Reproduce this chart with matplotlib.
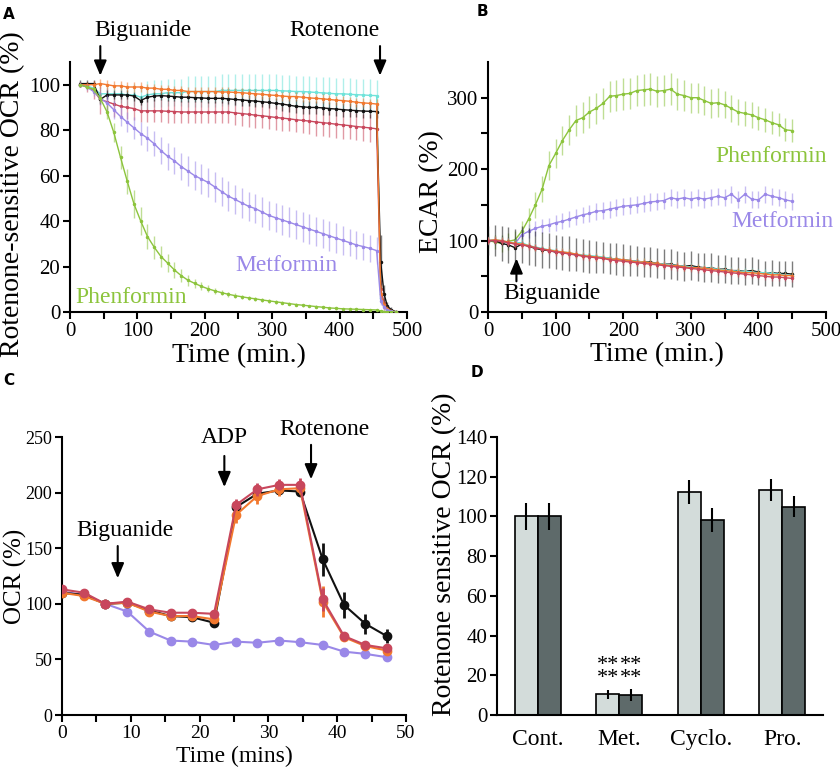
import matplotlib
matplotlib.use("Agg")
import matplotlib.pyplot as plt
from matplotlib.colors import to_rgba

plt.rcParams['font.family'] = ['Liberation Serif', 'DejaVu Serif']

# ---------------- data: panel A (rotenone-sensitive OCR, %) ----------------
a_time = [15, 25, 35, 45, 55, 65, 75, 85, 95, 105,
          115, 125, 135, 145, 155, 165, 175, 185, 195, 205,
          215, 225, 235, 245, 255, 265, 275, 285, 295, 305,
          315, 325, 335, 345, 355, 365, 375, 385, 395, 405,
          415, 425, 435, 445, 455,
          461, 466, 471, 477, 484]
a_cyan = [100, 99.5, 98.5, 96, 96, 96, 96, 95.5, 95.5, 94.5,
          95.5, 96, 96, 96.5, 96.5, 96.5, 97, 97, 97, 97,
          97, 97.5, 97.5, 97.5, 97.5, 97.5, 97.5, 97.5, 97.5, 97.5,
          97.3, 97.2, 97, 97, 96.8, 96.6, 96.4, 96.2, 96, 96,
          95.8, 95.6, 95.5, 95.3, 95.2,
          6, 3, 1.5, 0.5, 0]
a_cyan_err = [1, 1.5, 2, 3, 3.5, 4, 4, 4.5, 5, 5,
              6, 6, 6, 6, 6, 6, 7, 7, 7, 7,
              7, 7, 7, 7, 7, 7, 7, 7, 7, 7,
              7, 7, 7, 7, 7, 7, 7, 7, 7, 7,
              7, 7, 7, 7, 7,
              2, 1, 1, 0.5, 0]
a_orange = [100, 100, 100, 100.5, 100, 99.5, 99.5, 99, 99, 99,
            98.5, 98.5, 98, 98, 97.5, 97.5, 97, 97, 97, 97,
            97, 96.8, 96.8, 96.6, 96.5, 96.2, 96, 95.8, 95.5, 95.3,
            95, 94.8, 94.8, 94.5, 94.2, 94, 93.8, 93.5, 93.2, 93,
            92.7, 92.3, 92, 91.8, 91.5,
            8, 3, 1.5, 0.5, 0]
a_orange_err = [1, 1, 1.5, 2, 2, 2, 2, 2, 2, 2,
                2, 2, 2, 2, 2, 2, 2, 2, 2, 2,
                2, 2, 2, 2, 2, 2, 2, 2, 2, 2,
                2, 2, 2, 2, 2, 2, 2, 2, 2, 2,
                2, 2, 2, 2, 2,
                4, 2, 1, 0.5, 0]
a_black = [100.5, 100.5, 100.5, 93.5, 95.5, 95.5, 95.5, 95.5, 95, 93,
           94.5, 95, 95.2, 95, 94.8, 94.5, 94.5, 94.3, 94.2, 94,
           94, 94, 93.8, 93.5, 93.3, 93, 92.8, 92.5, 92.2, 91.8,
           91.5, 91, 90.5, 90.3, 90, 90, 89.8, 89.5, 89.3, 89,
           88.8, 88.6, 88.4, 88.3, 88.2,
           22, 8, 2.5, 1, 0]
a_black_err = [1.5, 1.5, 1.5, 2, 2, 2, 2, 2, 2, 2,
               2, 2, 2, 2, 2, 2, 2, 2, 2, 2,
               2, 2, 2.5, 2.5, 2.5, 2.5, 2.5, 2.5, 2.5, 2.5,
               3, 3, 3, 3, 3, 3, 3, 3, 3, 3,
               3, 3, 3, 3, 3,
               12, 4, 2, 1, 0]
a_red = [100, 99, 97.5, 93.5, 92.5, 91.5, 90.5, 90, 89.5, 88.5,
         88.5, 88.5, 88.5, 88.3, 88.2, 88, 88, 88, 88, 88,
         88, 88, 88, 87.6, 87.3, 87, 86.6, 86.3, 86, 85.6,
         85.3, 85, 84.6, 84.3, 84, 83.6, 83.3, 83, 82.6, 82.3,
         82, 81.6, 81.3, 81, 80.6,
         10, 4, 1.5, 0.5, 0]
a_red_err = [1, 2, 4, 6.5, 6, 5.5, 5, 5, 5, 5,
             5, 5, 5, 5, 5, 5, 5, 5, 5, 5,
             5, 5, 5, 5.5, 5.5, 5.5, 5.5, 5.5, 5.5, 5.5,
             5.5, 5.5, 5.5, 5.5, 5.5, 6, 6, 6, 6, 6,
             6, 6, 6, 6, 6,
             4, 2, 1, 0.5, 0]
a_purple = [100, 99, 97, 94, 92, 89, 86, 83.5, 81, 78.5,
            76.5, 74, 71, 68.5, 66.5, 64, 62, 60, 58.5, 57,
            55, 53, 51, 49.5, 48, 46.5, 45.5, 44, 42.5, 41.5,
            40.5, 39.5, 38.5, 37.5, 36.5, 35.5, 34.5, 33.5, 32.5, 31.5,
            30.5, 29.5, 28.8, 28, 27,
            5, 2, 1, 0.3, 0]
a_purple_err = [1, 1.5, 2, 3, 3.5, 4, 4, 4.5, 5, 5,
                5.5, 5.5, 6, 6, 6, 6, 6.5, 6.5, 6.5, 6.5,
                6.5, 6.5, 6.5, 6.5, 6.5, 6.5, 6.5, 6.5, 6.5, 6.5,
                6.5, 6.5, 6.5, 6.5, 6.5, 6.5, 6.5, 6.5, 6.5, 6.5,
                6, 6, 6, 6, 6,
                2, 1, 0.5, 0.3, 0]
a_green = [100, 99, 98, 94, 88, 79, 68, 57.5, 47.5, 40,
           33.2, 28.5, 24.4, 21.5, 18.5, 16, 14, 12.6, 11.3, 10.2,
           9.3, 8.5, 7.8, 7.2, 6.7, 6.2, 5.8, 5.3, 4.9, 4.5,
           4.1, 3.7, 3.3, 3, 2.7, 2.4, 2.1, 1.8, 1.6, 1.4,
           1.3, 1.2, 1.1, 1, 0.9,
           0.5, 0.2, 0, 0, 0]
a_green_err = [0.5, 1, 1.5, 2, 3, 4, 5, 5.5, 6, 6,
               5.5, 5, 4.5, 4, 3.5, 3, 2.5, 2, 1.8, 1.5,
               1.2, 1.2, 1, 1, 1, 1, 0.8, 0.8, 0.8, 0.8,
               0.7, 0.7, 0.7, 0.7, 0.6, 0.6, 0.6, 0.6, 0.5, 0.5,
               0.5, 0.5, 0.5, 0.5, 0.5,
               0.3, 0.2, 0, 0, 0]

# ---------------- data: panel B (ECAR, %) ----------------
b_time = [0, 10, 20, 30, 40, 50, 60, 70, 80, 90,
          100, 110, 120, 130, 140, 150, 160, 170, 180, 190,
          200, 210, 220, 230, 240, 250, 260, 270, 280, 290,
          300, 310, 320, 330, 340, 350, 360, 370, 380, 390,
          400, 410, 420, 430, 440, 450]
b_green = [100, 98, 96, 99, 101, 113, 130, 150, 172, 205,
           222, 240, 255, 268, 272, 280, 285, 292, 302, 303,
           305, 306, 310, 311, 312, 309, 310, 312, 305, 303,
           300, 300, 296, 292, 293, 290, 285, 280, 278, 276,
           272, 269, 265, 262, 255, 254]
b_green_err = [10, 10, 12, 12, 12, 14, 16, 18, 18, 20,
               20, 20, 21, 22, 22, 22, 22, 22, 22, 22,
               22, 22, 22, 22, 22, 22, 22, 22, 22, 22,
               21, 21, 20, 20, 20, 19, 19, 18, 18, 18,
               17, 17, 16, 16, 16, 16]
b_purple = [100, 100, 99, 97, 96, 108, 113, 117, 120, 122,
            125, 127, 130, 133, 136, 138, 141, 142, 144, 146,
            148, 149, 150, 152, 154, 155, 156, 160, 158, 160,
            158, 160, 158, 160, 162, 160, 165, 157, 165, 158,
            157, 165, 162, 160, 157, 155]
b_purple_err = [6, 6, 7, 8, 8, 9, 10, 10, 10, 10,
                11, 11, 11, 11, 11, 12, 12, 12, 12, 12,
                12, 12, 12, 12, 12, 12, 12, 12, 12, 12,
                12, 12, 12, 12, 12, 12, 12, 12, 12, 12,
                12, 12, 12, 12, 12, 12]
b_black = [100, 100, 96, 94, 90, 95, 92, 89, 87, 86,
           84, 83, 82, 80, 79, 78, 77, 76, 75, 74,
           73, 72, 71, 70, 70, 68, 67, 67, 65, 64,
           65, 63, 62, 62, 60, 60, 58, 58, 57, 58,
           56, 54, 55, 54, 54, 53]
b_black_err = [20, 22, 24, 25, 26, 26, 26, 25, 25, 25,
               24, 24, 24, 23, 23, 23, 22, 22, 22, 22,
               22, 22, 21, 21, 21, 21, 21, 21, 20, 20,
               20, 20, 20, 20, 20, 20, 19, 19, 19, 19,
               18, 18, 18, 18, 18, 18]
b_cyan = [100, 101, 100, 98, 97, 97, 93, 91, 89, 87,
          86, 84, 83, 81, 80, 79, 78, 77, 75, 74,
          73, 72, 71, 70, 69, 68, 67, 66, 65, 64,
          63, 62, 62, 61, 60, 59, 58, 57, 57, 56,
          55, 55, 54, 53, 52, 51]
b_orange = [100, 101, 100, 98, 96, 95, 93, 90, 88, 87,
            85, 84, 83, 81, 79, 78, 77, 76, 74, 74,
            73, 72, 70, 70, 69, 68, 66, 65, 65, 63,
            62, 62, 61, 60, 59, 58, 57, 56, 55, 55,
            54, 53, 52, 52, 51, 51]
b_red = [100, 100, 99, 97, 95, 94, 92, 90, 88, 86,
         84, 83, 81, 80, 78, 77, 76, 75, 73, 72,
         71, 70, 69, 68, 67, 66, 65, 64, 63, 62,
         61, 60, 59, 58, 57, 56, 55, 54, 53, 52,
         51, 50, 49, 49, 48, 47]

# ---------------- data: panel C (OCR, %) ----------------
c_time = [0, 3.2, 6.3, 9.5, 12.7, 15.8, 18.9, 22.1,
          25.3, 28.4, 31.6, 34.6, 37.9, 41, 44.1, 47.2]
c_black = [110, 108, 100, 101, 94, 89, 88, 83, 187, 199, 202, 201, 140, 99, 82, 71]
c_black_err = [2, 2, 1, 1.5, 1.5, 1.5, 1.5, 1.5, 4, 4, 4, 4, 15, 12, 9, 6]
c_orange = [110, 107, 100, 101, 93, 89, 89, 86, 180, 197, 203, 204, 102, 70, 62, 58]
c_orange_err = [2, 2, 1, 1.5, 1.5, 1.5, 1.5, 1.5, 7, 7, 6, 5, 14, 3, 2, 2]
c_red = [113, 110, 100, 102, 95, 92, 92, 91, 189, 203, 207, 207, 104, 71, 63, 60]
c_red_err = [2, 2, 1, 1.5, 1.5, 1.5, 1.5, 1.5, 5, 6, 5, 6, 10, 4, 2, 2]
c_purple = [111, 108, 100, 93, 75, 67, 66, 63, 66, 65, 67, 65.5, 63, 57, 55, 52]

# ---------------- data: panel D (bars) ----------------
d_groups = ['Cont.', 'Met.', 'Cyclo.', 'Pro.']
d_light = [100, 10.4, 112.2, 113.3]
d_light_err = [6.7, 2.3, 6, 5.5]
d_dark = [100, 10.1, 98.2, 104.9]
d_dark_err = [6.7, 3.2, 6, 5.3]

# colours
BLACK = '#111111'
CYAN = '#6fe3da'
ORANGE = '#f2782e'
RED = '#c8475c'
PURPLE = '#9a88e8'
GREEN = '#8cc43c'

fig = plt.figure(figsize=(8.4, 7.7), dpi=100)


def style_axes(ax, fs):
    for s in ['top', 'right']:
        ax.spines[s].set_visible(False)
    for s in ['left', 'bottom']:
        ax.spines[s].set_linewidth(1.5)
    ax.tick_params(which='both', direction='out', length=5, width=1.5,
                   labelsize=fs, pad=2)


def ts(ax, t, y, e, c, order):
    ax.errorbar(t, y, yerr=e, color=c, ecolor=to_rgba(c, 0.55),
                elinewidth=1, lw=1, marker='.', ms=3, capsize=0, zorder=order)


# ---------------- panel A ----------------
axA = fig.add_axes([0.0833, 0.5948, 0.4012, 0.3247])
style_axes(axA, 15)
ts(axA, a_time, a_cyan, a_cyan_err, CYAN, 2)
ts(axA, a_time, a_red, a_red_err, RED, 3)
ts(axA, a_time, a_black, a_black_err, BLACK, 4)
ts(axA, a_time, a_orange, a_orange_err, ORANGE, 5)
ts(axA, a_time, a_purple, a_purple_err, PURPLE, 6)
ts(axA, a_time, a_green, a_green_err, GREEN, 7)
axA.set_xlim(0, 500)
axA.set_ylim(0, 110)
axA.set_xticks([0, 100, 200, 300, 400, 500])
axA.set_xticks([50, 150, 250, 350, 450], minor=True)
axA.set_yticks([0, 20, 40, 60, 80, 100])
axA.set_xlabel('Time (min.)', fontsize=20)
axA.set_ylabel('Rotenone-sensitive OCR (%)', fontsize=20)
axA.xaxis.set_label_coords(0.5, -0.125)
axA.yaxis.set_label_coords(-0.134, 0.47)
arrow = dict(arrowstyle='-|>,head_length=0.9,head_width=0.38', color='k',
             lw=1.5, mutation_scale=10, shrinkA=0, shrinkB=0)
axA.annotate('', xy=(45, 104), xytext=(45, 117), arrowprops=arrow,
             annotation_clip=False)
axA.annotate('', xy=(460, 104), xytext=(460, 117), arrowprops=arrow,
             annotation_clip=False)
axA.text(108, 124, 'Biguanide', fontsize=17, ha='center', va='center', clip_on=False)
axA.text(392, 124, 'Rotenone', fontsize=17, ha='center', va='center', clip_on=False)
axA.text(321, 20.5, 'Metformin', fontsize=17, color=PURPLE, ha='center', va='center')
axA.text(90, 6.5, 'Phenformin', fontsize=17, color=GREEN, ha='center', va='center')

# ---------------- panel B ----------------
axB = fig.add_axes([0.581, 0.5948, 0.4024, 0.3247])
style_axes(axB, 15)
ts(axB, b_time, b_green, b_green_err, GREEN, 2)
ts(axB, b_time, b_purple, b_purple_err, PURPLE, 3)
ts(axB, b_time, b_black, b_black_err, BLACK, 4)
ts(axB, b_time, b_cyan, 5, CYAN, 5)
ts(axB, b_time, b_orange, 5, ORANGE, 6)
ts(axB, b_time, b_red, 5, RED, 7)
axB.set_xlim(0, 500)
axB.set_ylim(0, 350)
axB.set_xticks([0, 100, 200, 300, 400, 500])
axB.set_xticks([50, 150, 250, 350, 450], minor=True)
axB.set_yticks([0, 100, 200, 300])
axB.set_yticks([50, 150, 250], minor=True)
axB.set_xlabel('Time (min.)', fontsize=20)
axB.set_ylabel('ECAR (%)', fontsize=20)
axB.xaxis.set_label_coords(0.5, -0.12)
axB.yaxis.set_label_coords(-0.13, 0.48)
axB.annotate('', xy=(42, 75), xytext=(42, 43), arrowprops=arrow)
axB.text(94, 26, 'Biguanide', fontsize=17, ha='center', va='center')
axB.text(419, 218, 'Phenformin', fontsize=17, color=GREEN, ha='center', va='center',
         clip_on=False)
axB.text(436, 126, 'Metformin', fontsize=17, color=PURPLE, ha='center', va='center',
         clip_on=False)

# ---------------- panel C ----------------
axC = fig.add_axes([0.0738, 0.0714, 0.4095, 0.361])
style_axes(axC, 14)
axC.tick_params(axis='y', labelsize=13)
axC.plot(c_time, c_purple, color=PURPLE, lw=1.5, marker='o', ms=6, zorder=2)
axC.errorbar(c_time, c_black, yerr=c_black_err, color=BLACK, lw=1.5, marker='o',
             ms=6, elinewidth=2, capsize=0, zorder=3)
axC.errorbar(c_time, c_orange, yerr=c_orange_err, color=ORANGE, lw=1.5, marker='o',
             ms=6, elinewidth=2, capsize=0, zorder=4)
axC.errorbar(c_time, c_red, yerr=c_red_err, color=RED, lw=1.5, marker='o',
             ms=6, elinewidth=2, capsize=0, zorder=5)
axC.set_xlim(0, 50)
axC.set_ylim(0, 250)
axC.set_xticks([0, 10, 20, 30, 40, 50])
axC.set_xticks([5, 15, 25, 35, 45], minor=True)
axC.set_yticks([0, 50, 100, 150, 200, 250])
axC.set_xlabel('Time (mins)', fontsize=17)
axC.set_ylabel('OCR (%)', fontsize=18)
axC.xaxis.set_label_coords(0.5, -0.11)
axC.yaxis.set_label_coords(-0.103, 0.5)
axC.annotate('', xy=(8.1, 123), xytext=(8.1, 152), arrowprops=arrow)
axC.annotate('', xy=(23.6, 205), xytext=(23.6, 233), arrowprops=arrow)
axC.annotate('', xy=(36.2, 212), xytext=(36.2, 243), arrowprops=arrow)
axC.text(9.2, 166, 'Biguanide', fontsize=17, ha='center', va='center')
axC.text(23.6, 250, 'ADP', fontsize=17, ha='center', va='center', clip_on=False)
axC.text(38.1, 257, 'Rotenone', fontsize=17, ha='center', va='center', clip_on=False)

# ---------------- panel D ----------------
axD = fig.add_axes([0.5917, 0.0714, 0.388, 0.361])
style_axes(axD, 15)
xpos = list(range(len(d_groups)))
w = 0.28
axD.bar([x - w / 2 for x in xpos], d_light, w, yerr=d_light_err, color='#d3dcda',
        edgecolor='k', lw=1.2, error_kw=dict(lw=1.5, capsize=0, ecolor='k'))
axD.bar([x + w / 2 for x in xpos], d_dark, w, yerr=d_dark_err, color='#5e6a6a',
        edgecolor='k', lw=1.2, error_kw=dict(lw=1.5, capsize=0, ecolor='k'))
axD.set_xlim(-0.5, 3.5)
axD.set_ylim(0, 140)
axD.set_yticks([0, 20, 40, 60, 80, 100, 120, 140])
axD.set_xticks(xpos)
axD.set_xticklabels(d_groups, fontsize=17)
axD.tick_params(axis='x', length=0, pad=10)
axD.set_ylabel('Rotenone sensitive OCR (%)', fontsize=20)
axD.yaxis.set_label_coords(-0.123, 0.577)
for dx in (-w / 2, w / 2):
    axD.text(1 + dx, 21.5, '**\n**', fontsize=16, ha='center', va='center',
             linespacing=0.55)

# panel letters
for lab, x, y in [('A', 0.004, 0.991), ('B', 0.568, 0.995),
                  ('C', 0.004, 0.516), ('D', 0.560, 0.526)]:
    fig.text(x, y, lab, fontsize=11, fontweight='bold', family='DejaVu Sans',
             ha='left', va='top')

fig.savefig('out.png', dpi=100)
